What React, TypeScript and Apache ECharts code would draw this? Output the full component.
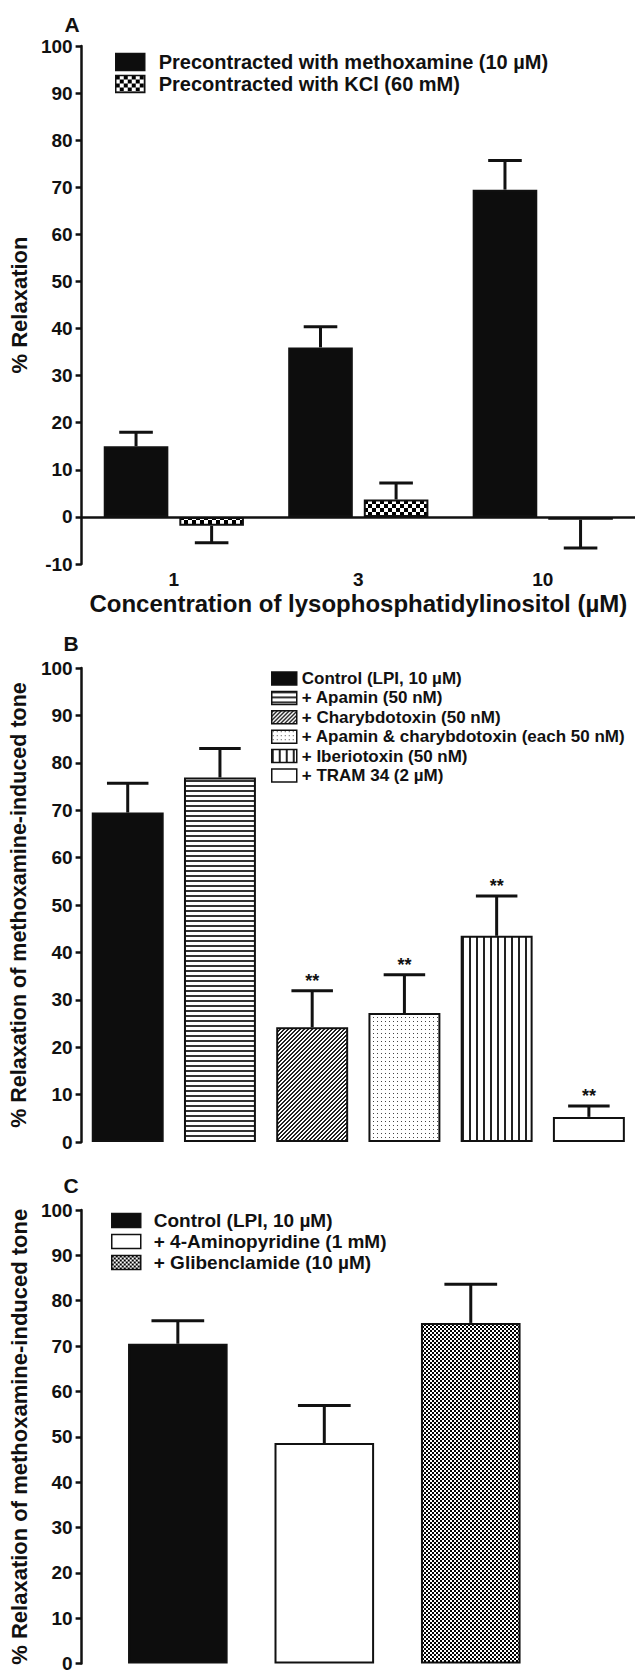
import React, { useEffect, useRef } from "react";
import * as echarts from "echarts";

const FONT = '"Liberation Sans", Arial, Helvetica, sans-serif';
const INK = "#111111";

// ---------- Panel A ----------
const concA = ["1", "3", "10"];
const legendA = ["Precontracted with methoxamine (10 µM)", "Precontracted with KCl (60 mM)"];
const methoxamineMean = [15.0, 36.0, 69.5];
const methoxamineSem = [3.0, 4.4, 6.2];
const kclMean = [-1.9, 3.7, -0.6];
const kclSem = [3.6, 3.5, 6.0];
const yMinA = -10;
const yStep = 10;
const yTitleA = "% Relaxation";
const xTitleA = "Concentration of lysophosphatidylinositol (µM)";

// ---------- Panel B ----------
const groupsB = [
  "Control (LPI, 10 µM)",
  "+ Apamin (50 nM)",
  "+ Charybdotoxin (50 nM)",
  "+ Apamin & charybdotoxin (each 50 nM)",
  "+ Iberiotoxin (50 nM)",
  "+ TRAM 34 (2 µM)",
];
const meanB = [69.5, 76.9, 24.2, 27.2, 43.5, 5.3];
const semB = [6.2, 6.1, 7.7, 8.1, 8.4, 2.3];
const sigB = ["", "", "**", "**", "**", "**"];

// ---------- Panel C ----------
const groupsC = ["Control (LPI, 10 µM)", "+ 4-Aminopyridine (1 mM)", "+ Glibenclamide (10 µM)"];
const meanC = [70.5, 48.6, 75.1];
const semC = [5.1, 8.3, 8.5];

const yTitleBC = "% Relaxation of methoxamine-induced tone";
const panelLetters = ["A", "B", "C"];

function makePattern(kind: string) {
  const c = document.createElement("canvas");
  let w = 4, h = 4;
  if (kind === "checker4") { w = 8; h = 8; }
  if (kind === "hlines") { w = 4; h = 5; }
  if (kind === "vlines") { w = 7; h = 2; }
  c.width = w; c.height = h;
  const g = c.getContext("2d")!;
  g.fillStyle = "#ffffff";
  g.fillRect(0, 0, w, h);
  if (kind === "checker4") {
    g.fillStyle = "#000";
    g.fillRect(0, 0, 4, 4);
    g.fillRect(4, 4, 4, 4);
  } else if (kind === "checker2") {
    g.fillStyle = "#000";
    g.fillRect(0, 0, 2, 2);
    g.fillRect(2, 2, 2, 2);
  } else if (kind === "hlines") {
    g.fillStyle = "#333";
    g.fillRect(0, 0, w, 2);
  } else if (kind === "vlines") {
    g.fillStyle = "#222";
    g.fillRect(0, 0, 2, h);
  } else if (kind === "diag") {
    g.fillStyle = "#222";
    for (let x = 0; x < 4; x++) for (let y = 0; y < 4; y++) {
      if ((x + y) % 4 === 0 || (x + y) % 4 === 1) g.fillRect(x, y, 1, 1);
    }
  } else if (kind === "dots") {
    g.fillStyle = "#444";
    g.fillRect(1, 1, 1, 1);
  }
  return { image: c.toDataURL(), repeat: "repeat", imageWidth: w, imageHeight: h };
}

export default function App() {
  const ref = useRef<HTMLDivElement>(null);

  useEffect(() => {
    const chart = echarts.init(ref.current!, null, { renderer: "svg" });

    const pat = {
      kcl: makePattern("checker4"),
      apamin: makePattern("hlines"),
      chtx: makePattern("diag"),
      both: makePattern("dots"),
      ibtx: makePattern("vlines"),
      glib: makePattern("checker2"),
    };
    const fillsB: any[] = ["#0d0d0d", pat.apamin, pat.chtx, pat.both, pat.ibtx, "#ffffff"];
    const fillsC: any[] = ["#0d0d0d", "#ffffff", pat.glib];

    const bold = (size: number) => ({ color: INK, fontFamily: FONT, fontWeight: "bold", fontSize: size });

    const yAxis = (gridIndex: number, min: number, name: string, nameGap: number, nameSize: number, offset = 0) => ({
      type: "value",
      gridIndex,
      min,
      max: 100,
      interval: yStep,
      offset,
      axisLine: { show: true, onZero: false, lineStyle: { color: INK, width: 2.5 } },
      axisTick: { show: true, length: 6, lineStyle: { color: INK, width: 2.5 } },
      axisLabel: { ...bold(19), margin: 9 },
      splitLine: { show: false },
      name,
      nameLocation: "middle",
      nameRotate: 90,
      nameGap,
      nameTextStyle: bold(nameSize),
    });

    const errorBars = (
      name: string,
      gridIdx: number,
      means: number[],
      sems: number[],
      offsetFrac: number,
      capFrac: number,
      marks?: string[]
    ) => ({
      type: "custom",
      name,
      xAxisIndex: gridIdx,
      yAxisIndex: gridIdx,
      z: 5,
      silent: true,
      data: means.map((m, i) => [i, m, sems[i]]),
      encode: { x: 0, y: 1 },
      renderItem: (params: any, api: any) => {
        const i = api.value(0);
        const m = api.value(1);
        const s = api.value(2);
        const band = api.size([1, 0])[0];
        const x = api.coord([i, 0])[0] + offsetFrac * band;
        const dir = m < 0 ? -1 : 1;
        const yBar = api.coord([i, m])[1];
        const yEnd = api.coord([i, m + dir * s])[1];
        const half = (capFrac * band) / 2;
        const style = { stroke: INK, lineWidth: 3, fill: null };
        const children: any[] = [
          { type: "line", shape: { x1: x, y1: yBar, x2: x, y2: yEnd }, style },
          { type: "line", shape: { x1: x - half, y1: yEnd, x2: x + half, y2: yEnd }, style },
        ];
        const mark = marks ? marks[params.dataIndex] : "";
        if (mark) {
          children.push({
            type: "text",
            x,
            y: yEnd - 10,
            style: { text: mark, textAlign: "center", textVerticalAlign: "middle", fill: INK, font: `bold 18px ${FONT}` },
          });
        }
        return { type: "group", children };
      },
    });

    // Panel A bar geometry: barCategoryGap 24%, barGap 17%
    const usedA = 1 - 0.24;
    const bwA = usedA / (2 + 0.17);
    const offA = -usedA / 2 + bwA / 2;

    const seriesB = groupsB.map((name, k) => ({
      type: "bar",
      name,
      xAxisIndex: 1,
      yAxisIndex: 1,
      stack: "B",
      barCategoryGap: "22%",
      itemStyle: { color: fillsB[k], borderColor: INK, borderWidth: 2 },
      data: meanB.map((v, j) => (j === k ? v : "-")),
    }));
    const seriesC = groupsC.map((name, k) => ({
      type: "bar",
      name: k === 0 ? name + " " : name,
      xAxisIndex: 2,
      yAxisIndex: 2,
      stack: "C",
      barCategoryGap: "32%",
      itemStyle: { color: fillsC[k], borderColor: INK, borderWidth: 2 },
      data: meanC.map((v, j) => (j === k ? v : "-")),
    }));

    const letter = (t: string, x: number, y: number) => ({
      type: "text",
      x,
      y,
      style: { text: t, textAlign: "center", textVerticalAlign: "middle", fill: INK, font: `bold 21px ${FONT}` },
    });

    const option: any = {
      animation: false,
      backgroundColor: "#ffffff",
      textStyle: { fontFamily: FONT },
      graphic: [letter(panelLetters[0], 72, 24), letter(panelLetters[1], 71, 643), letter(panelLetters[2], 71, 1185)],
      grid: [
        { left: 80, right: -1, top: 46, bottom: 1673 - 564 },
        { left: 80, right: -9, top: 668, bottom: 1673 - 1142 },
        { left: 104, right: 91, top: 1210, bottom: 6 },
      ],
      legend: [
        {
          orient: "vertical",
          left: 115,
          top: 52,
          padding: 0,
          icon: "rect",
          itemWidth: 29,
          itemHeight: 17,
          itemGap: 2,
          selectedMode: false,
          itemStyle: { borderColor: INK, borderWidth: 1.5 },
          textStyle: { ...bold(20), lineHeight: 20, padding: [0, 0, 0, 9] },
          data: legendA,
        },
        {
          orient: "vertical",
          left: 271,
          top: 670,
          padding: 0,
          icon: "rect",
          itemWidth: 25,
          itemHeight: 13,
          itemGap: 2.4,
          selectedMode: false,
          itemStyle: { borderColor: INK, borderWidth: 1.5 },
          textStyle: { ...bold(17), lineHeight: 17 },
          data: groupsB,
        },
        {
          orient: "vertical",
          left: 111,
          top: 1211,
          padding: 0,
          icon: "rect",
          itemWidth: 29,
          itemHeight: 14,
          itemGap: 2,
          selectedMode: false,
          itemStyle: { borderColor: INK, borderWidth: 1.5 },
          textStyle: { ...bold(19), lineHeight: 19, padding: [0, 0, 0, 8] },
          data: [groupsC[0] + " ", groupsC[1], groupsC[2]],
        },
      ],
      xAxis: [
        {
          type: "category",
          gridIndex: 0,
          data: concA,
          axisLine: { show: false, onZero: false },
          axisTick: { show: false },
          axisLabel: { ...bold(19), margin: 6 },
          name: xTitleA,
          nameLocation: "middle",
          nameGap: 27,
          nameTextStyle: bold(24),
        },
        {
          type: "category",
          gridIndex: 1,
          data: groupsB,
          axisLine: { show: false },
          axisTick: { show: false },
          axisLabel: { show: false },
        },
        {
          type: "category",
          gridIndex: 2,
          data: groupsC,
          axisLine: { show: false },
          axisTick: { show: false },
          axisLabel: { show: false },
        },
      ],
      yAxis: [
        yAxis(0, yMinA, yTitleA, 45, 22),
        yAxis(1, 0, yTitleBC, 48, 21.5),
        yAxis(2, 0, yTitleBC, 48, 22, 23),
      ],
      series: [
        {
          type: "bar",
          name: legendA[0],
          xAxisIndex: 0,
          yAxisIndex: 0,
          barCategoryGap: "24%",
          barGap: "17%",
          itemStyle: { color: "#0d0d0d", borderColor: INK, borderWidth: 2 },
          data: methoxamineMean,
          markLine: {
            silent: true,
            symbol: "none",
            label: { show: false },
            lineStyle: { color: INK, width: 2.5, type: "solid" },
            data: [{ yAxis: 0 }],
            z: 4,
          },
        },
        {
          type: "bar",
          name: legendA[1],
          xAxisIndex: 0,
          yAxisIndex: 0,
          barCategoryGap: "24%",
          barGap: "17%",
          itemStyle: { color: pat.kcl, borderColor: INK, borderWidth: 2 },
          data: kclMean,
        },
        errorBars("errA1", 0, methoxamineMean, methoxamineSem, offA, bwA * 0.52),
        errorBars("errA2", 0, kclMean, kclSem, -offA, bwA * 0.52),
        ...seriesB,
        errorBars("errB", 1, meanB, semB, 0, 0.45, sigB),
        ...seriesC,
        errorBars("errC", 2, meanC, semC, 0, 0.36),
      ],
    };

    chart.setOption(option);
    return () => chart.dispose();
  }, []);

  return <div ref={ref} style={{ position: "absolute", left: 0, top: 0, width: 635, height: 1673 }} />;
}
